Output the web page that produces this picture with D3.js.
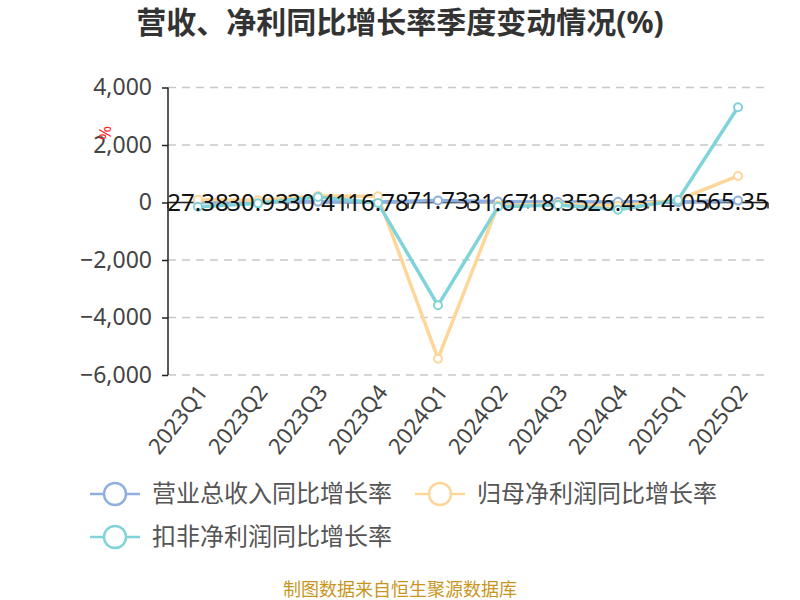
<!DOCTYPE html>
<html><head><meta charset="utf-8">
<script src="https://cdn.jsdelivr.net/npm/d3@7"></script>
<style>body{margin:0;background:#fff}svg{display:block}</style>
</head><body>
<svg id="c" width="800" height="600"></svg>
<script>
const categories = ["2023Q1","2023Q2","2023Q3","2023Q4","2024Q1","2024Q2","2024Q3","2024Q4","2025Q1","2025Q2"];
const revenueGrowth = [27.38,30.93,30.41,16.78,71.73,31.67,18.35,26.43,14.05,65.35];
const netProfitGrowth = [100,80,230,220,-5433,-100,-50,-120,90,922];
const deductedProfitGrowth = [-150,-30,190,-20,-3576,-150,-90,-250,90,3311];
const yTicks = [4000,2000,0,-2000,-4000,-6000];
const seriesNames = ["营业总收入同比增长率","归母净利润同比增长率","扣非净利润同比增长率"];
const colors = ["#8fb0de","#fdd79a","#80d4d9"];

const svg = d3.select("#c");
const FONT = "'Noto Sans','Noto Sans CJK SC',sans-serif";
const x = d3.scaleBand().domain(categories).range([168,768]);
const y = d3.scaleLinear().domain([-6000,4000]).range([375,87.5]);

// title
svg.append("text").attr("x",400).attr("y",33).attr("text-anchor","middle")
  .attr("font-family",FONT).attr("font-size",30).attr("font-weight","bold").attr("fill","#333")
  .text("营收、净利同比增长率季度变动情况(%)");

// grid
svg.append("g").selectAll("line").data(yTicks).join("line")
  .attr("x1",168).attr("x2",768).attr("y1",d=>y(d)).attr("y2",d=>y(d))
  .attr("stroke","#c8c8c8").attr("stroke-width",1.5).attr("stroke-dasharray","8,6");

// y axis
const yAxis = svg.append("g").attr("transform","translate(168,0)")
  .call(d3.axisLeft(y).tickValues(yTicks).tickSize(6).tickPadding(10).tickFormat(d3.format(",")));
yAxis.select(".domain").attr("stroke","#222").attr("stroke-width",1.5).attr("d","M0,"+y(4000)+"V"+y(-6000));
yAxis.selectAll(".tick line").attr("stroke","#222").attr("stroke-width",1.5);
yAxis.selectAll(".tick text").attr("font-family",FONT).attr("font-size",23).attr("fill","#444");

// y axis name
svg.append("text").attr("transform","translate(106,133) rotate(-90)").attr("text-anchor","middle")
  .attr("dominant-baseline","middle").attr("font-family",FONT).attr("font-size",17).attr("fill","#f22").text("%");

// x axis at zero
const xAxis = svg.append("g").attr("transform","translate(0,"+y(0)+")")
  .call(d3.axisBottom(x).tickSize(0).tickFormat(""));
xAxis.select(".domain").attr("stroke","#222").attr("stroke-width",1.5).attr("d","M168,0H768");
svg.append("g").selectAll("line").data(categories.concat(["_end"])).join("line")
  .attr("x1",(d,i)=>168+i*x.step()).attr("x2",(d,i)=>168+i*x.step())
  .attr("y1",y(0)).attr("y2",y(0)+6).attr("stroke","#222").attr("stroke-width",1.5);

// x labels at bottom
svg.append("g").selectAll("text").data(categories).join("text")
  .attr("transform",d=>"translate("+(x(d)+x.bandwidth()/2+6)+","+(y(-6000)+14)+") rotate(-52)")
  .attr("text-anchor","end").attr("dominant-baseline","middle")
  .attr("font-family",FONT).attr("font-size",22).attr("fill","#444").text(d=>d);

// lines
const allSeries = [revenueGrowth,netProfitGrowth,deductedProfitGrowth];
const line = d3.line().x((d,i)=>x(categories[i])+x.bandwidth()/2).y(d=>y(d));
allSeries.forEach((s,k)=>{
  svg.append("path").datum(s).attr("d",line).attr("fill","none")
    .attr("stroke",colors[k]).attr("stroke-width",3.5).attr("stroke-linejoin","round");
});
allSeries.forEach((s,k)=>{
  svg.append("g").selectAll("circle").data(s).join("circle")
    .attr("cx",(d,i)=>x(categories[i])+x.bandwidth()/2).attr("cy",d=>y(d)).attr("r",4)
    .attr("fill","#fff").attr("stroke",colors[k]).attr("stroke-width",2);
});

// data labels (revenue)
svg.append("g").selectAll("text").data(revenueGrowth).join("text")
  .attr("x",(d,i)=>x(categories[i])+x.bandwidth()/2).attr("y",d=>y(d)+9)
  .attr("text-anchor","middle").attr("font-family",FONT).attr("font-size",24).attr("fill","#111")
  .text(d=>d.toFixed(2));

// legend
const legendPos = [[90,494],[415,494],[90,537]];
seriesNames.forEach((n,k)=>{
  const [lx,ly] = legendPos[k];
  const g = svg.append("g");
  g.append("line").attr("x1",lx).attr("x2",lx+50).attr("y1",ly).attr("y2",ly).attr("stroke",colors[k]).attr("stroke-width",2.5);
  g.append("circle").attr("cx",lx+25).attr("cy",ly).attr("r",11).attr("fill","#fff").attr("stroke",colors[k]).attr("stroke-width",2.5);
  g.append("text").attr("x",lx+62).attr("y",ly+8).attr("font-family",FONT).attr("font-size",24).attr("fill","#555").text(n);
});

// footer
svg.append("text").attr("x",400).attr("y",596).attr("text-anchor","middle")
  .attr("font-family",FONT).attr("font-size",18).attr("fill","#c8961e").text("制图数据来自恒生聚源数据库");
</script>
</body></html>
